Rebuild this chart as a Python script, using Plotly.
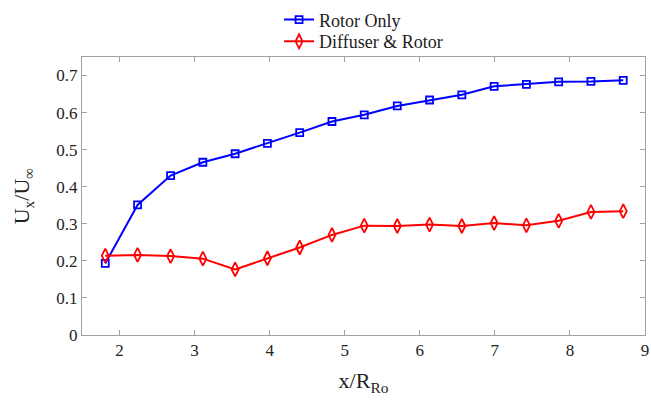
import plotly.graph_objects as go

# Axial distance downstream, normalised by rotor radius
x_over_r = [1.81, 2.24, 2.68, 3.11, 3.54, 3.97, 4.40, 4.83, 5.26,
            5.70, 6.13, 6.56, 6.99, 7.42, 7.85, 8.28, 8.71]

# Normalised axial velocity U_x / U_inf
rotor_only = [0.193, 0.351, 0.430, 0.466, 0.489, 0.517, 0.546, 0.576, 0.594,
              0.618, 0.634, 0.648, 0.671, 0.676, 0.683, 0.684, 0.687]
diffuser_rotor = [0.214, 0.216, 0.213, 0.206, 0.177, 0.207, 0.236, 0.270, 0.295,
                  0.294, 0.298, 0.294, 0.302, 0.296, 0.308, 0.332, 0.334]

x_ticks = [2, 3, 4, 5, 6, 7, 8, 9]
y_ticks = [0, 0.1, 0.2, 0.3, 0.4, 0.5, 0.6, 0.7]

FONT = "Liberation Serif"
AXIS_GREY = "#a0a0a0"
TEXT = "#222222"

fig = go.Figure()
fig.add_trace(go.Scatter(
    x=x_over_r, y=rotor_only, mode="lines+markers", name="Rotor Only",
    line=dict(color="#0000ff", width=2),
    marker=dict(symbol="square-open", size=7, color="#0000ff",
                line=dict(width=1.8, color="#0000ff")),
    legend="legend",
))
fig.add_trace(go.Scatter(
    x=x_over_r, y=diffuser_rotor, mode="lines+markers", name="Diffuser &amp; Rotor",
    line=dict(color="#ff0000", width=2),
    marker=dict(symbol="diamond-tall-open", size=10, color="#ff0000",
                line=dict(width=1.8, color="#ff0000")),
    legend="legend2",
))

axis_common = dict(
    showline=True, linecolor=AXIS_GREY, linewidth=1, mirror="ticks",
    ticks="inside", ticklen=5, tickcolor=AXIS_GREY, tickwidth=1,
    showgrid=False, zeroline=False,
    tickfont=dict(family=FONT, size=17, color=TEXT),
)

fig.update_xaxes(
    range=[1.5, 9], tickvals=x_ticks, ticktext=[str(v) for v in x_ticks],
    ticklabeloverflow="allow",
    title=dict(text="x/R<sub>Ro</sub>", font=dict(family=FONT, size=22, color=TEXT),
               standoff=13),
    **axis_common,
)
fig.update_yaxes(
    range=[0, 0.75], tickvals=y_ticks, ticktext=["0"] + [f"{v:.1f}" for v in y_ticks[1:]],
    title=dict(text="U<sub>x</sub>/U<sub>∞</sub>", font=dict(family=FONT, size=22, color=TEXT),
               standoff=20),
    **axis_common,
)

# Two stacked single-entry legends give tight control of row spacing
legend_common = dict(
    x=0.35, xanchor="left", yanchor="top",
    font=dict(family=FONT, size=18, color=TEXT),
    bgcolor="rgba(0,0,0,0)", itemwidth=30,
)

fig.update_layout(
    width=651, height=400,
    margin=dict(l=82, r=2, t=56, b=65),
    plot_bgcolor="white", paper_bgcolor="white",
    font=dict(family=FONT, color=TEXT),
    legend=dict(y=1.2, **legend_common),
    legend2=dict(y=1.122, **legend_common),
    showlegend=True,
)

fig.write_html("out.html")
